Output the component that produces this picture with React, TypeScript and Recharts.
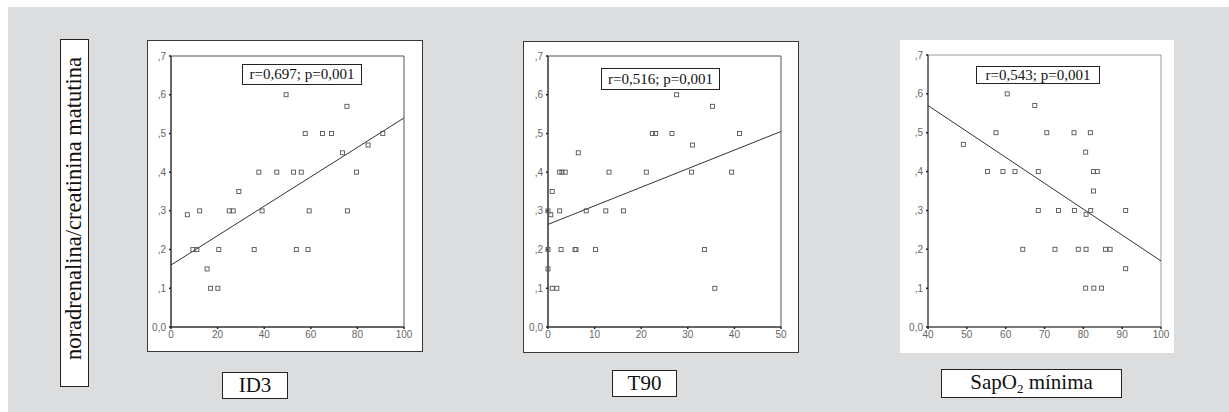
import React from "react";
import { ScatterChart, Scatter, XAxis, YAxis, ReferenceLine, ReferenceArea } from "recharts";

// ID3 panel
const id3X = [7, 9.4, 11.1, 12.3, 15.5, 17, 20.1, 20.5, 25, 26.7, 29.1, 35.7, 37.7, 39.1, 45.4, 49.4, 52.6, 53.8, 55.9, 57.6, 58.8, 59.3, 65, 68.9, 73.6, 75.5, 75.7, 79.6, 84.6, 90.9];
const id3Y = [0.29, 0.2, 0.2, 0.3, 0.15, 0.1, 0.1, 0.2, 0.3, 0.3, 0.35, 0.2, 0.4, 0.3, 0.4, 0.6, 0.4, 0.2, 0.4, 0.5, 0.2, 0.3, 0.5, 0.5, 0.45, 0.57, 0.3, 0.4, 0.47, 0.5];
const id3Fit = [{ x: 0, y: 0.16 }, { x: 100, y: 0.54 }];

// T90 panel
const t90X = [0, 0.6, 0.9, 0, 0, 0.9, 1.9, 2.5, 3.0, 3.7, 2.5, 2.8, 5.8, 6.0, 6.5, 8.2, 10.2, 12.4, 13.1, 16.2, 21.1, 22.4, 23.1, 26.6, 27.6, 30.8, 31.0, 33.6, 35.3, 35.8, 39.4, 41.1];
const t90Y = [0.3, 0.29, 0.35, 0.2, 0.15, 0.1, 0.1, 0.4, 0.4, 0.4, 0.3, 0.2, 0.2, 0.2, 0.45, 0.3, 0.2, 0.3, 0.4, 0.3, 0.4, 0.5, 0.5, 0.5, 0.6, 0.4, 0.47, 0.2, 0.57, 0.1, 0.4, 0.5];
const t90Fit = [{ x: 0, y: 0.265 }, { x: 50, y: 0.505 }];

// SapO2 minima panel
const sapX = [49.1, 55.3, 57.5, 59.3, 60.4, 62.4, 64.4, 67.5, 68.4, 68.4, 70.6, 72.7, 73.6, 77.6, 77.7, 78.7, 80.6, 80.7, 80.7, 80.6, 81.8, 81.9, 82.6, 83.6, 82.6, 82.7, 84.7, 85.7, 86.9, 90.9, 90.9];
const sapY = [0.47, 0.4, 0.5, 0.4, 0.6, 0.4, 0.2, 0.57, 0.4, 0.3, 0.5, 0.2, 0.3, 0.5, 0.3, 0.2, 0.45, 0.29, 0.2, 0.1, 0.5, 0.3, 0.4, 0.4, 0.35, 0.1, 0.1, 0.2, 0.2, 0.3, 0.15];
const sapFit = [{ x: 40, y: 0.57 }, { x: 100, y: 0.17 }];

const yTicks = [0, 0.1, 0.2, 0.3, 0.4, 0.5, 0.6, 0.7];
const id3Ticks = [0, 20, 40, 60, 80, 100];
const t90Ticks = [0, 10, 20, 30, 40, 50];
const sapTicks = [40, 50, 60, 70, 80, 90, 100];

const corrLabels = ["r=0,697; p=0,001", "r=0,516; p=0,001", "r=0,543; p=0,001"];
const xLabels = ["ID3", "T90"];
const yLabel = "noradrenalina/creatinina matutina";

const serif = "'Liberation Serif', 'DejaVu Serif', serif";
const sans = "'Liberation Sans', Arial, sans-serif";

const toPoints = (xs: number[], ys: number[]) => xs.map((x, i) => ({ x, y: ys[i] }));

const Square = (props: any) => {
  const { cx, cy } = props;
  if (cx == null || cy == null) return null;
  return <rect x={cx - 2} y={cy - 2} width={4} height={4} fill="none" stroke="#555" strokeWidth={0.9} />;
};

const fmtY = (v: number) => (v === 0 ? "0,0" : "," + Math.round(v * 10));

type PanelProps = {
  left: number;
  top: number;
  width: number;
  height: number;
  margin: { top: number; right: number; left: number; bottom: number };
  yW: number;
  xH: number;
  domain: [number, number];
  ticks: number[];
  data: { x: number; y: number }[];
  fit: { x: number; y: number }[];
  border: boolean;
  frame: string;
};

function Panel(p: PanelProps) {
  return (
    <div
      style={{
        position: "absolute",
        left: p.left,
        top: p.top,
        width: p.width,
        height: p.height,
        background: "#fff",
        boxSizing: "border-box",
        border: p.border ? "1px solid #3a3a3a" : "none",
      }}
    >
      <div style={{ position: "absolute", left: p.border ? -1 : 0, top: p.border ? -1 : 0 }}>
        <ScatterChart width={p.width} height={p.height} margin={p.margin}>
          <XAxis
            type="number"
            dataKey="x"
            domain={p.domain}
            ticks={p.ticks}
            height={p.xH}
            tickSize={2}
            tickMargin={2}
            interval={0}
            axisLine={{ stroke: "#222" }}
            tickLine={{ stroke: "#222", strokeWidth: 1.5 }}
            tick={{ fill: "#666", fontSize: 10, fontFamily: sans }}
          />
          <YAxis
            type="number"
            dataKey="y"
            domain={[0, 0.7]}
            ticks={yTicks}
            width={p.yW}
            tickSize={2}
            tickMargin={3}
            interval={0}
            tickFormatter={fmtY}
            axisLine={{ stroke: "#222" }}
            tickLine={{ stroke: "#222", strokeWidth: 1.5 }}
            tick={{ fill: "#666", fontSize: 10, fontFamily: sans }}
          />
          <ReferenceArea
            x1={p.domain[0]}
            x2={p.domain[1]}
            y1={0}
            y2={0.7}
            fill="none"
            fillOpacity={0}
            stroke={p.frame}
            strokeWidth={1}
          />
          <ReferenceLine segment={p.fit} stroke="#333" strokeWidth={1} />
          <Scatter data={p.data} shape={<Square />} isAnimationActive={false} />
        </ScatterChart>
      </div>
    </div>
  );
}

const boxText = (left: number, top: number, width: number, height: number, size: number) => ({
  position: "absolute" as const,
  left,
  top,
  width,
  height,
  boxSizing: "border-box" as const,
  border: "1px solid #222",
  background: "#fff",
  fontFamily: serif,
  fontSize: size,
  color: "#111",
  display: "flex",
  alignItems: "center",
  justifyContent: "center",
  lineHeight: 1,
  whiteSpace: "nowrap" as const,
});

export default function App() {
  return (
    <div style={{ position: "absolute", left: 0, top: 0, width: 1229, height: 412, background: "#fff", overflow: "hidden" }}>
      <div style={{ position: "absolute", left: 8, top: 7, width: 1221, height: 405, background: "#dcdddf" }} />

      <div style={boxText(60, 39, 29, 348, 22.5)}>
        <span style={{ writingMode: "vertical-rl", transform: "rotate(180deg)", marginTop: -10 }}>{yLabel}</span>
      </div>

      <Panel
        left={147}
        top={40}
        width={276}
        height={312}
        margin={{ top: 16, right: 19, left: 0, bottom: 0 }}
        yW={24}
        xH={25}
        domain={[0, 100]}
        ticks={id3Ticks}
        data={toPoints(id3X, id3Y)}
        fit={id3Fit}
        border
        frame="#555"
      />
      <Panel
        left={523}
        top={41}
        width={276}
        height={312}
        margin={{ top: 15, right: 18, left: 0, bottom: 0 }}
        yW={25}
        xH={26}
        domain={[0, 50]}
        ticks={t90Ticks}
        data={toPoints(t90X, t90Y)}
        fit={t90Fit}
        border
        frame="#555"
      />
      <Panel
        left={900}
        top={40}
        width={274}
        height={313}
        margin={{ top: 15, right: 13, left: 0, bottom: 0 }}
        yW={28}
        xH={26}
        domain={[40, 100]}
        ticks={sapTicks}
        data={toPoints(sapX, sapY)}
        fit={sapFit}
        border={false}
        frame="#999"
      />

      <div style={boxText(242, 64, 120, 21, 15)}>{corrLabels[0]}</div>
      <div style={boxText(601, 68, 119, 22, 15)}>{corrLabels[1]}</div>
      <div style={boxText(976, 66, 124, 18, 15)}>{corrLabels[2]}</div>

      <div style={boxText(222, 372, 66, 27, 21)}>{xLabels[0]}</div>
      <div style={boxText(612, 370, 65, 27, 21)}>{xLabels[1]}</div>
      <div style={boxText(941, 369, 181, 29, 21)}>
        <span>
          SapO<sub style={{ fontSize: 13, verticalAlign: -4 }}>2</sub> mínima
        </span>
      </div>
    </div>
  );
}
